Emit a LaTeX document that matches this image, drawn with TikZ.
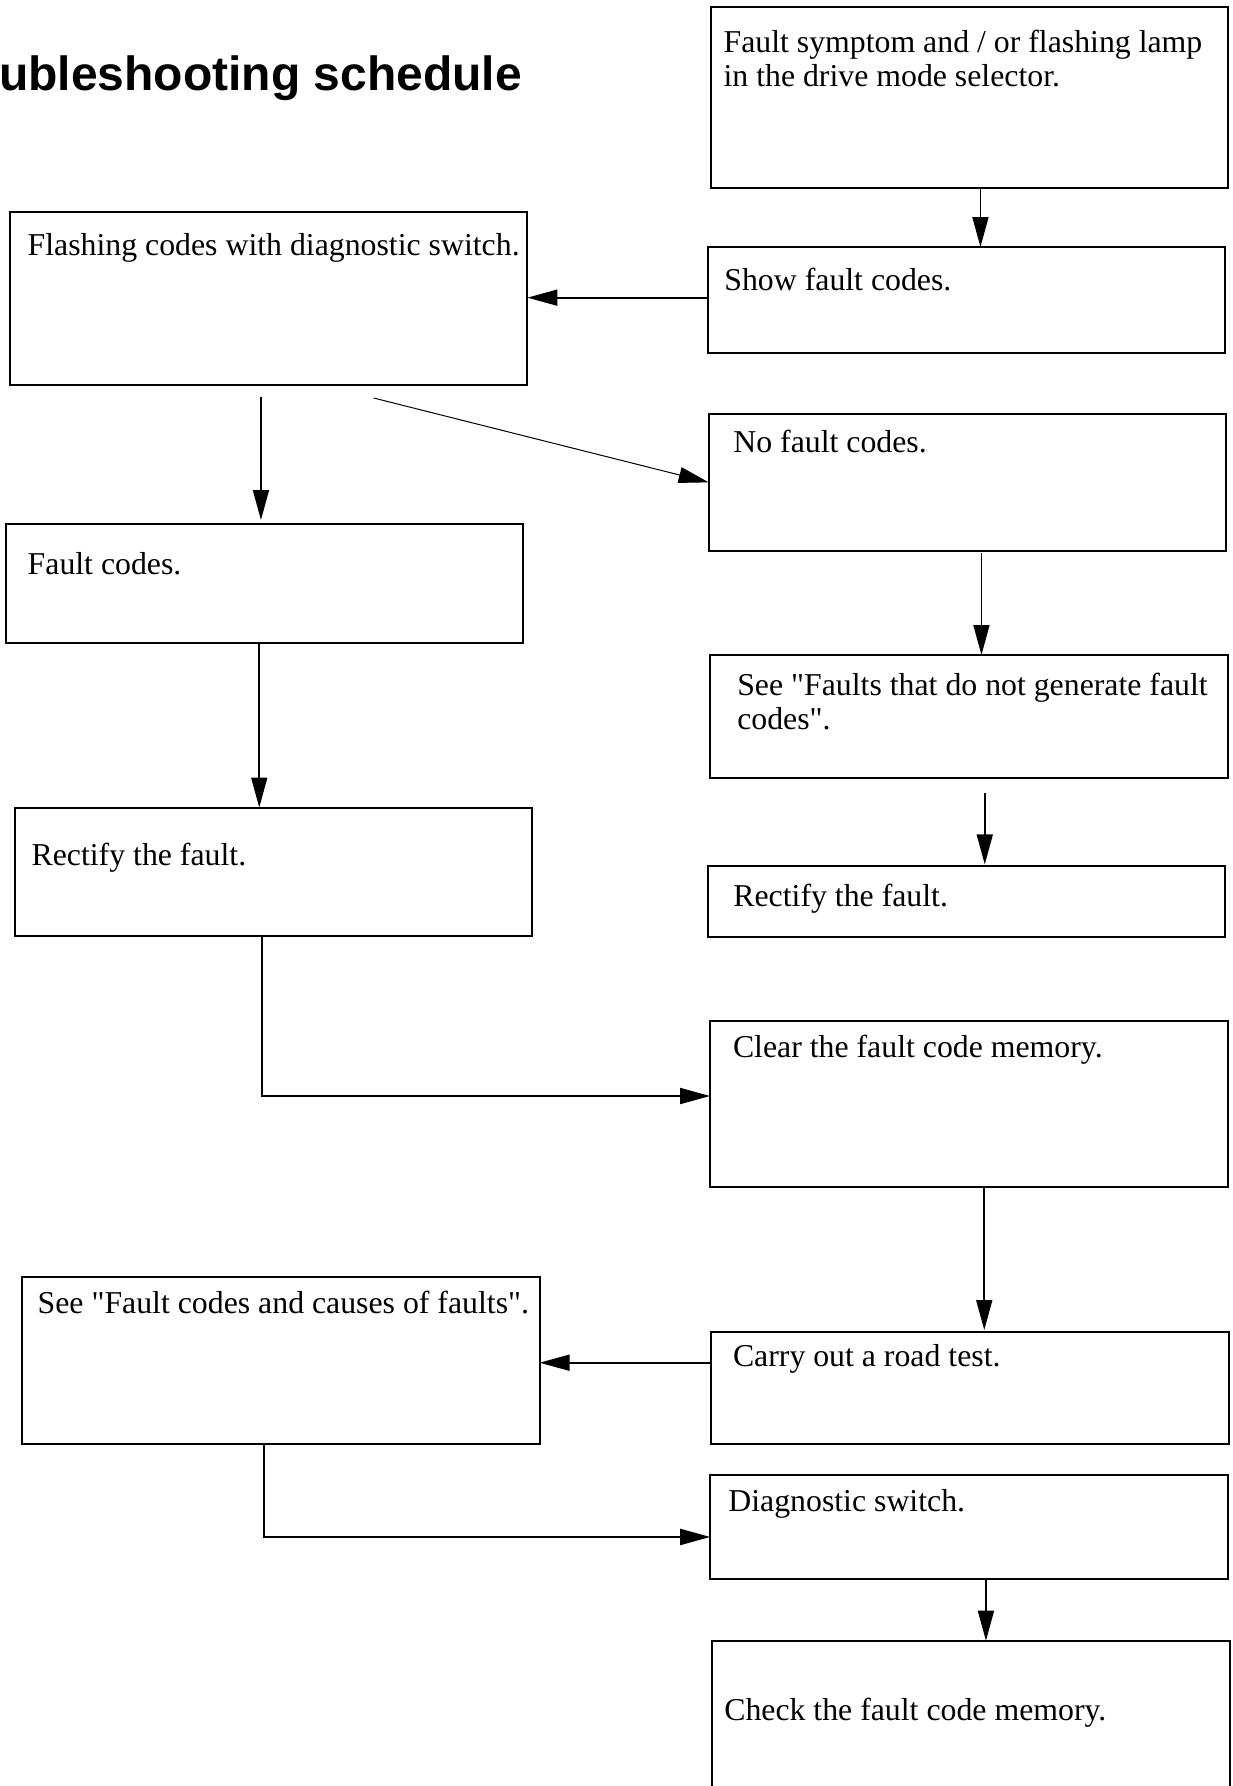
\documentclass[tikz,border=0pt]{standalone}
\usepackage{fontspec}
\setmainfont{Liberation Serif}
\newfontfamily\headfont{Liberation Sans}
\usetikzlibrary{arrows.meta}
\usetikzlibrary{calc}

\tikzset{
  chartbox/.style={draw, line width=2pt, anchor=north west, inner sep=0pt, outer sep=0pt,
    text width=517.5pt, font=\fontsize{31.8}{34}\selectfont},
  txtindent/.style={execute at begin node={\leftskip=#1pt\rightskip=0pt plus 1fil\parfillskip=0pt plus 1fil\spaceskip=.25em plus .05em minus .05em\xspaceskip=\spaceskip\relax}},
  flow/.style={-{Triangle[length=30pt,width=16pt]}, line width=1.7pt},
}

\begin{document}
\begin{tikzpicture}[x=1pt, y=-1pt]
    \useasboundingbox (0,0) rectangle (1233,1786);
    \node[anchor=base west, inner sep=0pt, font=\headfont\bfseries\fontsize{48}{50}\selectfont] (title) at (-1,90.7) {ubleshooting schedule};

    \node[chartbox, txtindent=12.9, text height=45pt, text depth=136pt] (Top) at (710.7,7.3) {Fault symptom and / or flashing lamp\\in the drive mode selector.};
    \node[chartbox, txtindent=16.8, text height=43pt, text depth=63.3pt] (Show) at (707.6,247) {Show fault codes.};
    \node[chartbox, txtindent=17.8, text height=43.4pt, text depth=129.3pt] (Flashing) at (9.9,212.3) {Flashing codes with diagnostic switch.};
    \node[chartbox, txtindent=24.7, text height=38pt, text depth=98.7pt] (No) at (708.7,414) {No fault codes.};
    \node[chartbox, txtindent=22.2, text height=50pt, text depth=69pt] (Fault) at (5.5,524) {Fault codes.};
    \node[chartbox, txtindent=27.3, text height=40pt, text depth=83pt] (See) at (710,655) {See \textquotedbl Faults that do not generate fault\\codes\textquotedbl.};
    \node[chartbox, txtindent=17, text height=58.2pt, text depth=70.3pt] (RectL) at (14.6,807.5) {Rectify the fault.};
    \node[chartbox, txtindent=25.8, text height=40.4pt, text depth=30.2pt] (RectR) at (707.6,866.4) {Rectify the fault.};
    \node[chartbox, txtindent=23, text height=36.6pt, text depth=129.4pt] (Clear) at (710,1020.7) {Clear the fault code memory.};
    \node[chartbox, txtindent=15.7, text height=36pt, text depth=130.7pt] (See2) at (22,1277.3) {See \textquotedbl Fault codes and causes of faults\textquotedbl.};
    \node[chartbox, txtindent=22, text height=34.7pt, text depth=77.3pt] (Carry) at (711,1332) {Carry out a road test.};
    \node[chartbox, txtindent=18.2, text height=37.1pt, text depth=67.6pt] (Diag) at (710.2,1474.6) {Diagnostic switch.};
    \node[chartbox, txtindent=12.1, text height=79.3pt, text depth=100pt] (Check) at (712.2,1640.7) {Check the fault code memory.};

    \draw[flow] ($(Top.south)+(11,0)$) coordinate (a1) -- (a1 |- Show.north);
    \draw[flow] ($(Show.west)+(0,-2.5)$) coordinate (a2) -- (a2 -| Flashing.east);
    \draw[flow] ($(Flashing.south)+(-7.7,12)$) coordinate (a3) -- ($(a3 |- Fault.north)+(0,-4)$);
    \draw[flow, line width=1pt] ($(Flashing.south)+(105,13)$) -- (No.west);
    \draw[flow] ($(Fault.south)+(-5,0)$) coordinate (a5) -- (a5 |- RectL.north);
    \draw[flow, line width=2pt] ($(RectL.south)+(-11.3,0)$) |- ($(Clear.west)+(0,-7.7)$);
    \draw[flow] ($(No.south)+(14,2)$) coordinate (a7) -- (a7 |- See.north);
    \draw[flow] ($(See.south)+(16,15)$) coordinate (a8) -- ($(a8 |- RectR.north)+(0,-2)$);
    \draw[flow] ($(Clear.south)+(15.5,0)$) coordinate (a9) -- ($(a9 |- Carry.north)+(0,-2)$);
    \draw[flow] ($(Carry.west)+(0,-25.3)$) coordinate (a10) -- (a10 -| See2.east);
    \draw[flow, line width=2pt] ($(See2.south)+(-16.5,0)$) |- ($(Diag.west)+(0,10)$);
    \draw[flow] ($(Diag.south)+(17,0)$) coordinate (a12) -- (a12 |- Check.north);
\end{tikzpicture}
\end{document}
